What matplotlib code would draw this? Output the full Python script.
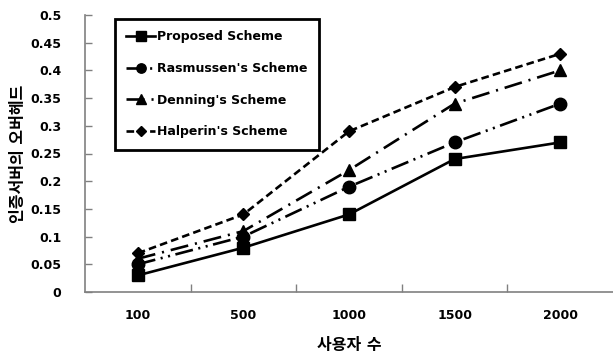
import matplotlib
matplotlib.use("Agg")
import matplotlib.pyplot as plt

plt.rcParams['font.family'] = ['DejaVu Sans', 'Noto Sans CJK KR']
plt.rcParams['lines.scale_dashes'] = False

users = ['100', '500', '1000', '1500', '2000']
proposed = [0.03, 0.08, 0.14, 0.24, 0.27]
rasmussen = [0.05, 0.10, 0.19, 0.27, 0.34]
denning = [0.06, 0.11, 0.22, 0.34, 0.40]
halperin = [0.07, 0.14, 0.29, 0.37, 0.43]
y_ticks = [0, 0.05, 0.1, 0.15, 0.2, 0.25, 0.3, 0.35, 0.4, 0.45, 0.5]
y_tick_labels = ['0', '0.05', '0.1', '0.15', '0.2', '0.25', '0.3', '0.35', '0.4', '0.45', '0.5']

W, H = 613, 362
fig = plt.figure(figsize=(W / 100, H / 100), dpi=100)
ax = fig.add_axes([85 / W, (H - 292) / H, (W - 85) / W, (292 - 15) / H])

x = list(range(len(users)))
lw = 1.9
ax.plot(x, proposed, color='black', lw=lw, linestyle='-', marker='s', markersize=9,
        label='Proposed Scheme')
ax.plot(x, rasmussen, color='black', lw=lw, linestyle=(0, (13, 4, 1.5, 4, 1.5, 4)),
        marker='o', markersize=9, label="Rasmussen's Scheme")
ax.plot(x, denning, color='black', lw=lw, linestyle=(0, (13, 5, 1.5, 5)),
        marker='^', markersize=9, label="Denning's Scheme")
ax.plot(x, halperin, color='black', lw=lw, linestyle=(0, (5.5, 3)),
        marker='D', markersize=6.5, label="Halperin's Scheme")

ax.set_xlim(-0.5, 4.5)
ax.set_ylim(0, 0.5)
ax.set_yticks(y_ticks)
ax.set_yticklabels(y_tick_labels, fontweight='bold', fontsize=9)
ax.set_xticks(x)
ax.set_xticklabels(users, fontweight='bold', fontsize=9)
ax.set_xticks([i + 0.5 for i in range(len(users) - 1)], minor=True)
ax.tick_params(axis='x', which='major', length=0, pad=12)
ax.tick_params(axis='x', which='minor', direction='in', length=6, color='#808080', width=1)
ax.tick_params(axis='y', direction='in', length=5, color='#808080', width=1, pad=17)

for side in ['top', 'right']:
    ax.spines[side].set_visible(False)
for side in ['left', 'bottom']:
    ax.spines[side].set_color('#808080')
    ax.spines[side].set_linewidth(1.2)

ax.set_xlabel('사용자 수', fontweight='bold', fontsize=11.5, labelpad=12)
ax.set_ylabel('인증서버의 오버헤드', fontweight='bold', fontsize=11.5, labelpad=3)

leg = ax.legend(loc='upper left', bbox_to_anchor=(115 / W, 1 - 19 / H),
                bbox_transform=fig.transFigure, frameon=True, fancybox=False,
                framealpha=1, prop={'weight': 'bold', 'size': 9}, handlelength=2.3,
                handletextpad=0.15, labelspacing=1.5, borderpad=0.9,
                borderaxespad=0, markerscale=0.75)
leg.get_frame().set_edgecolor('black')
leg.get_frame().set_linewidth(2)

fig.savefig('out.png', dpi=100)
